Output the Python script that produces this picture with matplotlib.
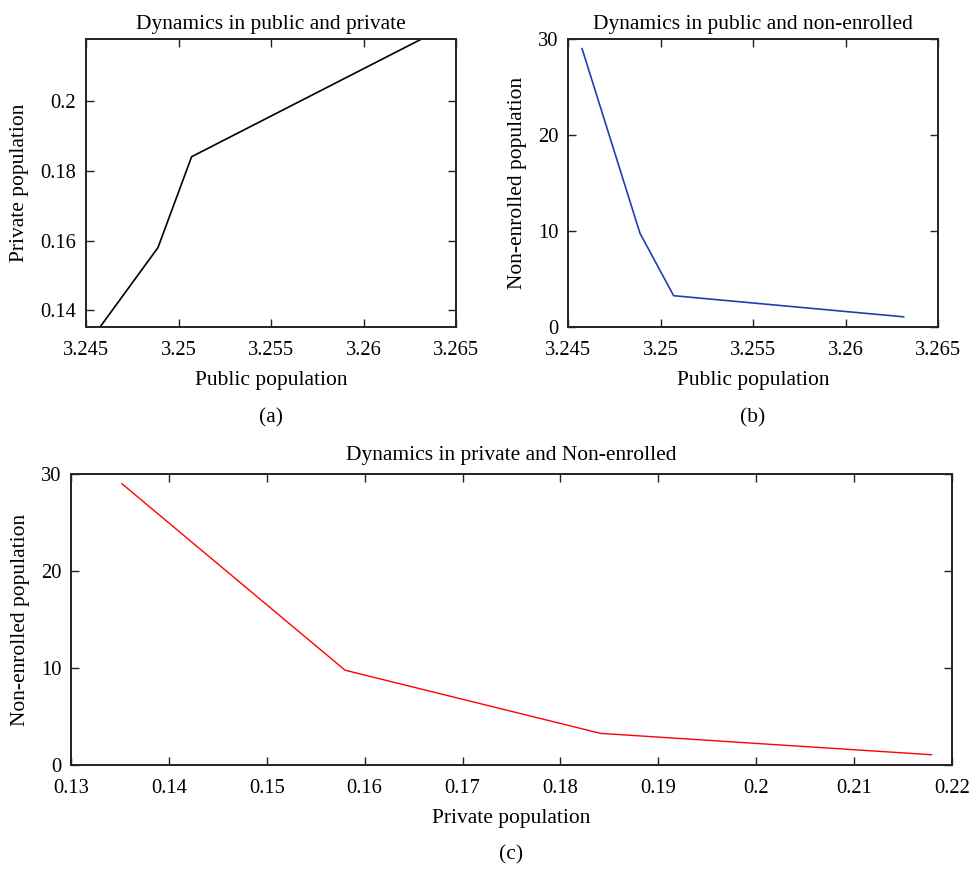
import numpy as np
import matplotlib
matplotlib.use("Agg")
import matplotlib.pyplot as plt
from matplotlib.ticker import MultipleLocator, FuncFormatter

# --- Data ---
public_pop = [3.24576, 3.24889, 3.25071, 3.26314]
private_pop = [0.1352, 0.1580, 0.1841, 0.2179]
nonenrolled_pop = [29.0, 9.77, 3.26, 1.06]

titles = [
    "Dynamics in public and private",
    "Dynamics in public and non-enrolled",
    "Dynamics in private and Non-enrolled",
]
panel_labels = ["(a)", "(b)", "(c)"]

plt.rcParams["font.family"] = ["Liberation Serif", "DejaVu Serif"]
plt.rcParams["font.size"] = 15

W, H = 972, 869
fig = plt.figure(figsize=(W / 100, H / 100), dpi=100)

LABEL_FS = 15.5
TICK_FS = 14.8


def px_axes(left, top, right, bottom):
    return fig.add_axes([left / W, 1 - bottom / H, (right - left) / W, (bottom - top) / H])


def style(ax):
    for s in ax.spines.values():
        s.set_linewidth(1.4)
        s.set_color("#222222")
    ax.tick_params(direction="in", top=True, right=True, length=6,
                   width=1.0, labelsize=TICK_FS, color="#222222")
    ax.tick_params(axis="x", pad=10)
    ax.tick_params(axis="y", pad=7)
    ax.xaxis.set_major_formatter(FuncFormatter(lambda v, p: f"{v:g}"))
    ax.yaxis.set_major_formatter(FuncFormatter(lambda v, p: f"{v:g}"))


# --- (a) public vs private ---
ax1 = px_axes(86, 39, 456, 327)
ax1.plot(public_pop, private_pop, color="black", lw=1.2)
ax1.set_xlim(3.245, 3.265)
ax1.set_ylim(min(private_pop), max(private_pop))
ax1.xaxis.set_major_locator(MultipleLocator(0.005))
ax1.yaxis.set_major_locator(MultipleLocator(0.02))
style(ax1)
ax1.set_title(titles[0], fontsize=LABEL_FS, pad=7)
ax1.set_xlabel("Public population", fontsize=LABEL_FS, labelpad=8)
ax1.set_ylabel("Private population", fontsize=LABEL_FS, labelpad=8)
fig.text((86 + 456) / 2 / W, 1 - 418 / H, panel_labels[0], ha="center", va="center", fontsize=LABEL_FS)

# --- (b) public vs non-enrolled ---
ax2 = px_axes(568, 39, 938, 327)
ax2.plot(public_pop, nonenrolled_pop, color="#2040b0", lw=1.2)
ax2.set_xlim(3.245, 3.265)
ax2.set_ylim(0, 30)
ax2.xaxis.set_major_locator(MultipleLocator(0.005))
ax2.yaxis.set_major_locator(MultipleLocator(10))
style(ax2)
ax2.set_title(titles[1], fontsize=LABEL_FS, pad=7)
ax2.set_xlabel("Public population", fontsize=LABEL_FS, labelpad=8)
ax2.set_ylabel("Non-enrolled population", fontsize=LABEL_FS, labelpad=8)
fig.text((568 + 938) / 2 / W, 1 - 418 / H, panel_labels[1], ha="center", va="center", fontsize=LABEL_FS)

# --- (c) private vs non-enrolled ---
ax3 = px_axes(71, 474, 952, 765)
ax3.plot(private_pop, nonenrolled_pop, color="#ff0000", lw=1.0)
ax3.set_xlim(0.13, 0.22)
ax3.set_ylim(0, 30)
ax3.xaxis.set_major_locator(MultipleLocator(0.01))
ax3.yaxis.set_major_locator(MultipleLocator(10))
style(ax3)
ax3.set_title(titles[2], fontsize=LABEL_FS, pad=10)
ax3.set_xlabel("Private population", fontsize=LABEL_FS, labelpad=8)
ax3.set_ylabel("Non-enrolled population", fontsize=LABEL_FS, labelpad=8)
fig.text((71 + 952) / 2 / W, 1 - 855 / H, panel_labels[2], ha="center", va="center", fontsize=LABEL_FS)

fig.savefig("out.png", dpi=100)
